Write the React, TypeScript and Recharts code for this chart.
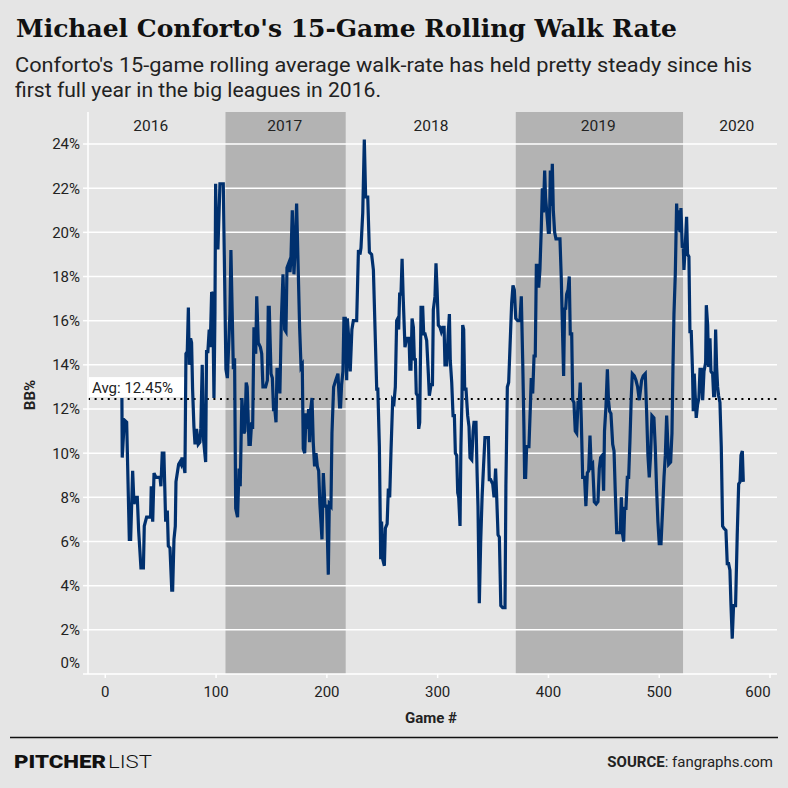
import { LineChart, Line, XAxis, YAxis, ReferenceArea, ReferenceLine } from "recharts";

// game number (15-game window end) and rolling BB%
const games = [
  15.0, 15.3, 17.2, 19.3, 21.7, 22.9, 24.7, 25.9, 27.7, 28.9, 30.1, 32.2, 34.4, 35.2, 37.3, 40.9, 41.5, 42.8, 44.0, 45.7,
  49.4, 50.2, 51.4, 52.9, 54.5, 56.0, 56.9, 58.4, 60.0, 60.8, 62.0, 63.2, 63.8, 66.2, 67.4, 68.4, 69.3, 71.0, 71.9, 72.8,
  74.0, 75.0, 75.8, 77.0, 77.9, 78.8, 80.0, 81.0, 82.4, 83.9, 85.4, 86.2, 87.5, 88.7, 90.6, 91.4, 92.6, 93.8, 94.7, 96.0,
  96.9, 98.1, 99.0, 99.6, 100.5, 101.7, 103.5, 106.5, 108.9, 110.2, 112.5, 113.4, 115.6, 116.7, 117.7, 119.4, 120.7, 121.8, 123.3, 125.1,
  126.0, 127.2, 128.1, 129.7, 130.9, 132.1, 133.0, 134.2, 135.8, 136.7, 138.1, 140.0, 141.2, 142.3, 144.7, 146.3, 147.1, 148.0, 149.6, 150.8,
  151.9, 152.8, 154.1, 155.0, 157.1, 157.6, 158.9, 160.4, 161.9, 163.1, 164.0, 165.5, 166.7, 167.5, 168.8, 170.3, 171.5, 172.7, 174.2, 175.4,
  176.7, 177.8, 178.7, 180.0, 181.2, 182.4, 183.5, 184.4, 185.4, 186.6, 187.7, 188.9, 190.2, 191.4, 192.6, 193.7, 195.6, 196.8, 198.3, 199.8,
  201.3, 202.2, 203.7, 204.6, 206.1, 208.0, 210.0, 211.5, 212.4, 213.3, 214.5, 215.4, 216.6, 217.9, 218.5, 219.6, 221.1, 222.6, 223.9, 226.9,
  228.5, 229.9, 230.8, 232.4, 233.8, 235.0, 236.9, 238.4, 240.4, 242.0, 243.5, 245.0, 246.0, 247.4, 248.6, 249.4, 250.4, 251.9, 252.8, 254.4,
  255.5, 256.7, 257.9, 259.4, 260.6, 261.8, 263.0, 264.0, 264.8, 265.7, 266.9, 267.9, 268.8, 270.5, 272.0, 274.2, 275.0, 275.9, 276.9, 278.1,
  279.0, 279.9, 280.7, 282.0, 282.9, 283.8, 285.0, 286.5, 287.4, 288.6, 290.1, 291.6, 292.5, 294.0, 295.3, 296.1, 297.6, 298.5, 299.5, 300.6,
  302.1, 303.3, 304.6, 305.8, 306.6, 308.2, 309.4, 310.6, 311.4, 312.7, 313.9, 315.1, 316.0, 317.2, 318.1, 319.0, 320.2, 321.0, 322.0, 322.6,
  323.5, 324.4, 325.6, 327.1, 328.3, 329.2, 330.8, 332.0, 332.8, 334.6, 335.6, 336.4, 337.6, 338.8, 340.1, 341.5, 342.7, 345.8, 346.6, 347.8,
  349.7, 350.9, 351.4, 352.3, 353.3, 354.5, 355.7, 357.0, 358.7, 360.8, 361.6, 362.9, 364.1, 365.3, 366.8, 368.0, 369.2, 370.5, 372.2, 374.3,
  375.5, 376.8, 377.9, 378.5, 379.4, 380.3, 382.4, 383.6, 384.5, 385.8, 387.0, 388.1, 389.1, 390.3, 391.2, 392.3, 393.5, 394.5, 395.4, 396.6,
  397.4, 399.0, 399.9, 400.8, 401.7, 402.5, 403.5, 404.4, 405.6, 406.8, 410.4, 411.6, 412.9, 413.7, 414.6, 415.5, 416.4, 417.7, 418.8, 419.7,
  421.0, 421.9, 423.0, 424.2, 425.5, 426.7, 427.8, 428.7, 429.6, 430.9, 432.6, 433.8, 435.1, 436.3, 437.5, 438.6, 439.9, 441.4, 443.1, 444.7,
  445.9, 447.1, 448.6, 449.8, 450.6, 451.9, 453.2, 454.2, 455.2, 456.4, 458.0, 459.2, 460.3, 461.6, 464.8, 465.8, 466.7, 467.9, 468.8, 470.0,
  471.2, 472.4, 473.6, 474.8, 475.7, 477.5, 479.0, 480.5, 482.0, 484.1, 485.6, 487.4, 488.6, 489.8, 491.0, 492.2, 493.4, 495.2, 496.4, 497.6,
  498.8, 500.0, 501.6, 503.1, 504.3, 505.5, 506.7, 507.6, 508.5, 510.3, 511.5, 512.4, 513.3, 514.5, 515.7, 516.6, 517.5, 518.7, 519.6, 520.8,
  521.7, 522.3, 523.5, 524.7, 525.6, 526.8, 527.7, 528.9, 530.1, 530.7, 531.6, 532.5, 533.4, 534.6, 535.8, 536.8, 538.0, 539.2, 540.4, 541.9,
  542.5, 543.7, 544.6, 545.8, 546.7, 548.2, 549.1, 550.0, 550.9, 551.8, 552.7, 553.6, 554.8, 556.0, 557.2, 558.4, 560.2, 561.4, 562.6, 563.8,
  564.7, 565.9, 567.1, 568.9, 570.4, 571.7, 572.9, 573.8, 575.0, 575.9,
];

const bbRate = [
  12.5, 9.8, 11.5, 11.4, 6.1, 6.1, 9.2, 7.7, 8.0, 8.0, 6.5, 4.8, 4.8, 6.7, 7.1, 7.1, 8.5, 6.9, 9.1, 8.9,
  8.9, 8.5, 10.0, 10.0, 6.9, 7.4, 5.8, 5.7, 3.8, 3.8, 6.1, 6.7, 8.7, 9.5, 9.6, 9.5, 9.8, 9.4, 9.1, 14.5,
  14.6, 16.6, 14.0, 15.2, 15.0, 12.9, 11.2, 10.4, 11.1, 10.4, 10.5, 11.1, 14.0, 10.6, 9.6, 14.6, 14.6, 15.6, 14.8, 17.3,
  17.2, 12.5, 16.4, 22.2, 19.3, 19.3, 22.2, 22.2, 13.8, 13.4, 16.3, 19.2, 13.8, 14.3, 7.5, 7.1, 9.3, 8.5, 12.5, 10.9,
  11.0, 13.2, 13.0, 10.4, 10.4, 11.4, 11.1, 15.7, 14.5, 17.1, 15.0, 14.8, 14.5, 13.0, 13.0, 13.3, 16.6, 16.6, 13.6, 13.4,
  11.9, 12.1, 11.4, 13.8, 13.8, 12.7, 16.0, 18.1, 15.6, 15.5, 18.4, 18.6, 18.2, 18.7, 21.0, 18.1, 19.4, 21.3, 18.2, 15.7,
  13.9, 14.0, 10.2, 10.0, 11.8, 11.1, 12.0, 10.5, 12.0, 12.5, 10.5, 9.4, 10.0, 9.4, 9.2, 7.7, 6.1, 9.1, 7.6, 7.6,
  4.5, 7.7, 7.6, 10.9, 13.0, 13.3, 13.6, 12.1, 12.1, 13.1, 13.7, 16.1, 16.1, 13.3, 16.1, 15.3, 13.7, 15.6, 16.0, 16.0,
  19.2, 19.0, 19.3, 20.9, 24.2, 21.6, 21.6, 19.1, 19.0, 18.3, 15.6, 12.9, 12.9, 10.3, 5.2, 6.9, 5.2, 4.9, 6.6, 6.8,
  8.4, 8.0, 10.1, 12.4, 12.3, 13.0, 16.0, 16.1, 15.6, 17.2, 17.2, 18.8, 17.2, 14.8, 15.2, 15.2, 13.8, 13.8, 16.1, 15.7,
  14.2, 14.3, 12.7, 12.6, 11.1, 11.4, 16.6, 16.6, 15.4, 15.4, 15.1, 13.6, 12.6, 13.1, 13.1, 16.5, 17.1, 18.6, 17.4, 15.8,
  15.7, 15.5, 15.7, 15.7, 14.0, 14.0, 15.3, 16.3, 14.2, 13.2, 11.7, 11.7, 10.0, 9.9, 8.2, 8.0, 6.7, 10.3, 12.6, 15.8,
  15.6, 12.9, 12.9, 11.7, 11.2, 9.8, 9.7, 11.0, 11.4, 11.4, 9.1, 7.6, 3.2, 5.9, 8.0, 9.5, 10.7, 10.7, 8.8, 8.8,
  8.6, 8.0, 8.4, 9.3, 8.0, 6.3, 6.2, 3.1, 3.0, 3.0, 8.5, 13.0, 13.2, 14.8, 16.8, 17.6, 17.4, 16.1, 16.0, 16.0,
  17.1, 14.1, 11.1, 8.9, 8.9, 10.3, 10.3, 12.0, 13.4, 12.7, 14.4, 14.4, 18.5, 18.5, 17.5, 18.3, 20.1, 22.0, 20.9, 22.8,
  21.6, 20.6, 20.0, 20.0, 22.8, 21.2, 23.1, 21.0, 20.0, 19.7, 19.7, 17.9, 15.1, 13.5, 16.6, 16.5, 17.2, 17.4, 18.0, 15.4,
  15.4, 12.4, 12.3, 11.0, 10.9, 12.3, 12.3, 13.2, 11.6, 8.9, 8.9, 7.6, 9.1, 9.2, 10.8, 9.4, 9.5, 7.8, 7.7, 7.8,
  9.3, 9.8, 9.9, 8.3, 11.0, 12.1, 13.8, 12.4, 11.9, 11.8, 10.4, 10.1, 8.3, 6.4, 6.4, 8.0, 6.4, 6.0, 7.5, 7.5,
  8.9, 8.9, 10.6, 12.6, 13.6, 13.5, 13.3, 13.0, 12.4, 13.3, 13.5, 13.6, 11.9, 9.9, 8.9, 9.9, 11.7, 11.6, 10.3, 8.4,
  6.9, 5.9, 5.9, 7.5, 8.9, 9.9, 11.7, 10.6, 9.5, 9.6, 10.9, 13.9, 16.3, 18.1, 21.3, 20.1, 21.0, 20.0, 21.1, 19.3,
  19.4, 18.3, 19.4, 20.7, 19.0, 18.9, 15.5, 15.5, 13.6, 11.9, 13.6, 12.6, 11.6, 12.2, 12.5, 13.8, 13.8, 12.4, 13.7, 14.1,
  16.7, 15.8, 13.9, 15.2, 13.7, 13.6, 12.6, 12.6, 15.6, 13.9, 13.0, 12.6, 12.3, 10.3, 6.7, 6.6, 6.5, 5.0, 5.0, 4.7,
  3.2, 1.6, 3.1, 3.1, 6.3, 8.6, 8.7, 9.9, 10.1, 8.7,
];

const avgRate = 12.45;

// shaded seasons (start/end game)
const shadedSeasons = [
  [108.5, 217],
  [370.5, 521.5],
];
const seasonLabels = ["2016", "2017", "2018", "2019", "2020"];
const seasonLabelGames = [41, 162, 294, 445, 570];

const yTicks = [0, 2, 4, 6, 8, 10, 12, 14, 16, 18, 20, 22, 24];
const xTicks = [0, 100, 200, 300, 400, 500, 600];

const rows = games.map((g, i) => ({ game: g, bb: bbRate[i] }));

const SANS = "Roboto, 'Noto Sans', sans-serif";
const TEXT = "#222";

const YTick = (props: any) => {
  const { x, y, payload } = props;
  const lift = payload.value === 0 ? -11 : 0;
  return (
    <text x={x} y={y + lift} dy="0.36em" textAnchor="end" fontSize={15} fill={TEXT} fontFamily={SANS}>
      {payload.value}%
    </text>
  );
};

const XTick = (props: any) => {
  const { x, y, payload } = props;
  // last label sits pulled in from its tick, as in the original
  const shift = payload.value === 600 ? -12 : 0;
  return (
    <text x={x + shift} y={y} dy="0.71em" textAnchor="middle" fontSize={15} fill={TEXT} fontFamily={SANS}>
      {payload.value}
    </text>
  );
};

const seasonLabel = (text: string) => (props: any) => {
  const vb = props.viewBox;
  return (
    <text x={vb.x} y={vb.y + 19} textAnchor="middle" fontSize={15.5} fill={TEXT} fontFamily={SANS}>
      {text}
    </text>
  );
};

const avgLabel = (props: any) => {
  const vb = props.viewBox;
  return (
    <g>
      <rect x={vb.x + 1} y={vb.y - 22} width={97} height={20} fill="#fff" />
      <text x={vb.x + 4} y={vb.y - 6} fontSize={15} fill={TEXT} fontFamily={SANS}>
        Avg: {avgRate}%
      </text>
    </g>
  );
};

export default function App() {
  return (
    <div style={{ position: "absolute", left: 0, top: 0, width: 788, height: 788, background: "#e5e5e5" }}>
      <div style={{ position: "absolute", left: 0, top: 0 }}>
        <LineChart width={788} height={788} data={rows} margin={{ top: 112, right: 11, bottom: 84, left: 28 }}>
          <XAxis
            dataKey="game"
            type="number"
            domain={[-15.6, 606.3]}
            ticks={xTicks}
            allowDataOverflow
            height={30}
            axisLine={{ stroke: "#fff", strokeWidth: 1.5 }}
            tickLine={{ stroke: "#fff", strokeWidth: 1.5 }}
            tickSize={4}
            tickMargin={8}
            tick={XTick}
          />
          <YAxis
            type="number"
            domain={[0, 25.45]}
            ticks={yTicks}
            allowDataOverflow
            width={60}
            axisLine={{ stroke: "#fff", strokeWidth: 1.5 }}
            tickLine={{ stroke: "#fff", strokeWidth: 1.5 }}
            tickSize={5}
            tickMargin={3}
            tick={YTick}
          />
          {shadedSeasons.map(([a, b]) => (
            <ReferenceArea key={a} x1={a} x2={b} y1={0} y2={25.45} fill="#b3b3b3" fillOpacity={1} stroke="none" />
          ))}
          {yTicks.slice(1).map((t) => (
            <ReferenceLine key={t} y={t} stroke="#fff" strokeWidth={1.5} />
          ))}
          {seasonLabels.map((s, i) => (
            <ReferenceLine key={s} x={seasonLabelGames[i]} stroke="none" label={seasonLabel(s)} />
          ))}
          <ReferenceLine y={avgRate} stroke="#000" strokeWidth={2} strokeDasharray="2 4.6" label={avgLabel} />
          <Line
            dataKey="bb"
            type="linear"
            stroke="#00306e"
            strokeWidth={3.2}
            dot={false}
            isAnimationActive={false}
          />
        </LineChart>
      </div>
      <svg width={788} height={788} style={{ position: "absolute", left: 0, top: 0, pointerEvents: "none" }}>
        <text x={16} y={37} fontFamily="'DejaVu Serif', serif" fontWeight={700} fontSize={24} fill="#111" textLength={661} lengthAdjust="spacingAndGlyphs">
          Michael Conforto's 15-Game Rolling Walk Rate
        </text>
        <text x={15} y={72} fontFamily={SANS} fontSize={20.5} fill={TEXT} textLength={737} lengthAdjust="spacingAndGlyphs">
          Conforto's 15-game rolling average walk-rate has held pretty steady since his
        </text>
        <text x={15} y={97} fontFamily={SANS} fontSize={20.5} fill={TEXT} textLength={366} lengthAdjust="spacingAndGlyphs">
          first full year in the big leagues in 2016.
        </text>
        <text x={431} y={723} textAnchor="middle" fontFamily={SANS} fontWeight={700} fontSize={15} fill={TEXT}>
          Game #
        </text>
        <text x={35} y={395} textAnchor="middle" transform="rotate(-90 35 395)" fontFamily={SANS} fontWeight={700} fontSize={15} fill={TEXT}>
          BB%
        </text>
        <line x1={10} x2={778} y1={737.5} y2={737.5} stroke="#111" strokeWidth={1.5} />
        <text x={14} y={768} fontFamily={SANS} fontWeight={900} fontSize={18} fill="#111" textLength={92} lengthAdjust="spacingAndGlyphs">
          PITCHER
        </text>
        <text x={108} y={768} fontFamily={SANS} fontWeight={300} fontSize={18} fill="#111" textLength={44} lengthAdjust="spacingAndGlyphs">
          LIST
        </text>
        <text x={773} y={766.5} textAnchor="end" fontFamily={SANS} fontSize={15} fill={TEXT}>
          <tspan fontWeight={700}>SOURCE</tspan>: fangraphs.com
        </text>
      </svg>
    </div>
  );
}
